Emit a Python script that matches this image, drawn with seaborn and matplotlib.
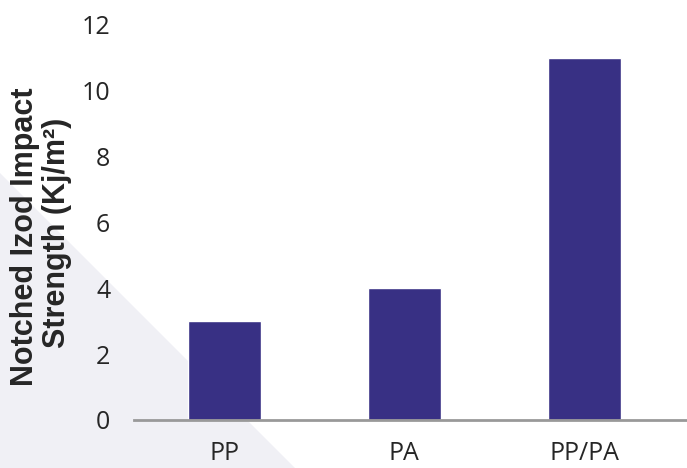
import matplotlib
matplotlib.use("Agg")
import matplotlib.pyplot as plt
from matplotlib.patches import Polygon
import seaborn as sns
import pandas as pd

# Notched Izod impact strength per material
materials = ["PP", "PA", "PP/PA"]
strength = [3, 4, 11]
y_ticks = [0, 2, 4, 6, 8, 10, 12]

sns.set_theme(style="white")
plt.rcParams["font.family"] = ["Open Sans", "DejaVu Sans"]

df = pd.DataFrame({"material": materials, "strength": strength})

fig = plt.figure(figsize=(6.87, 4.68), dpi=100)
fig.patch.set_facecolor("white")

# soft grey corner wedge behind the plot
wedge = Polygon([(0, 0.6303), (0.4294, 0.0), (0, 0)], closed=True,
                transform=fig.transFigure, facecolor="#f0f0f5",
                edgecolor="none", zorder=0)
fig.patches.append(wedge)

ax = fig.add_axes([0.195, 0.1026, 0.805, 0.844])
ax.set_zorder(2)
ax.set_facecolor("none")

sns.barplot(data=df, x="material", y="strength", color="#383084",
            width=0.405, saturation=1, ax=ax, zorder=3)

ax.set_ylim(0, 12)
ax.set_xlim(-0.5, 2.57)
ax.set_yticks(y_ticks)
ax.set_yticklabels([str(t) for t in y_ticks])
ax.tick_params(axis="y", length=0, pad=17, labelsize=18, labelcolor="#262626")
ax.tick_params(axis="x", length=0, pad=15, labelsize=18, labelcolor="#262626")
ax.set_xlabel("")
ax.set_ylabel("")

for side in ["top", "right", "left"]:
    ax.spines[side].set_visible(False)
ax.spines["bottom"].set_color("#999999")
ax.spines["bottom"].set_linewidth(2)
ax.spines["bottom"].set_zorder(4)

label_kw = dict(rotation=90, ha="center", va="center", fontsize=22,
                fontweight="bold", color="#262626",
                family=["Liberation Sans", "DejaVu Sans"], zorder=5)
fig.text(25 / 687, 1 - 237 / 468, "Notched Izod Impact", **label_kw)
fig.text(57 / 687, 1 - 233 / 468, "Strength (Kj/m\u00b2)", **label_kw)

fig.savefig("out.png", dpi=100)
